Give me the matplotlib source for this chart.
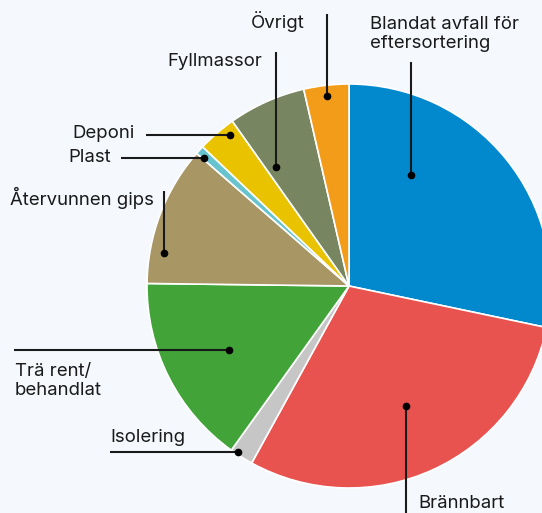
import matplotlib
matplotlib.use("Agg")
import matplotlib.pyplot as plt

categories = ["Blandat avfall för\neftersortering", "Brännbart", "Isolering",
              "Trä rent/\nbehandlat", "Återvunnen gips", "Plast", "Deponi",
              "Fyllmassor", "Övrigt"]
values = [28.3, 29.7, 1.9, 15.3, 11.2, 0.7, 3.1, 6.2, 3.6]
colors = ["#0288CD", "#E8524F", "#C6C6C6", "#41A338", "#A99665",
          "#67C3CE", "#EAC300", "#778560", "#F39C1A"]

W, H = 542, 513
BG = "#F5F9FE"
fig = plt.figure(figsize=(W / 100, H / 100), dpi=100, facecolor=BG)
ax = fig.add_axes([0, 0, 1, 1])
ax.set_facecolor(BG)

cx, cy, r = 349, H - 286, 202
ax.pie(values, colors=colors, startangle=90, counterclock=False,
       center=(cx, cy), radius=r, frame=True,
       wedgeprops=dict(edgecolor="white", linewidth=1.2))
ax.set_xlim(0, W)
ax.set_ylim(0, H)
ax.set_aspect("equal")
ax.axis("off")

FONT = "Inter"
FS = 13.4
LC = "#1a1a1a"

def y(v):
    return H - v

# (text, text_x, text_y, ha, line points, dot)
labels = [
    (categories[0], 370, 34, "left", [(411, 62), (411, 175)], (411, 175)),
    (categories[1], 418, 504, "left", [(406, 406), (406, 520)], (406, 406)),
    (categories[2], 110, 438, "left", [(110, 452), (238, 452)], (238, 452)),
    (categories[3], 15, 381, "left", [(14, 350), (229, 350)], (229, 350)),
    (categories[4], 10, 198, "left", [(164, 191), (164, 253)], (164, 253)),
    (categories[5], 68, 158, "left", [(121, 158), (204, 158)], (204, 158)),
    (categories[6], 72, 134, "left", [(146, 135), (230, 135)], (230, 135)),
    (categories[7], 167, 62, "left", [(276, 52), (276, 167)], (276, 167)),
    (categories[8], 251, 22, "left", [(327, 14), (327, 96)], (327, 96)),
]

for text, tx, ty, ha, pts, dot in labels:
    ax.text(tx, y(ty), text, ha=ha, va="center", fontsize=FS, family=FONT,
            color="#1a1a1a", linespacing=1.2)
    xs = [p[0] for p in pts]
    ys = [y(p[1]) for p in pts]
    ax.plot(xs, ys, color=LC, lw=1.5, solid_capstyle="butt")
    ax.plot(dot[0], y(dot[1]), "o", color="black", ms=4.5)

fig.savefig("out.png", dpi=100, facecolor=BG)
